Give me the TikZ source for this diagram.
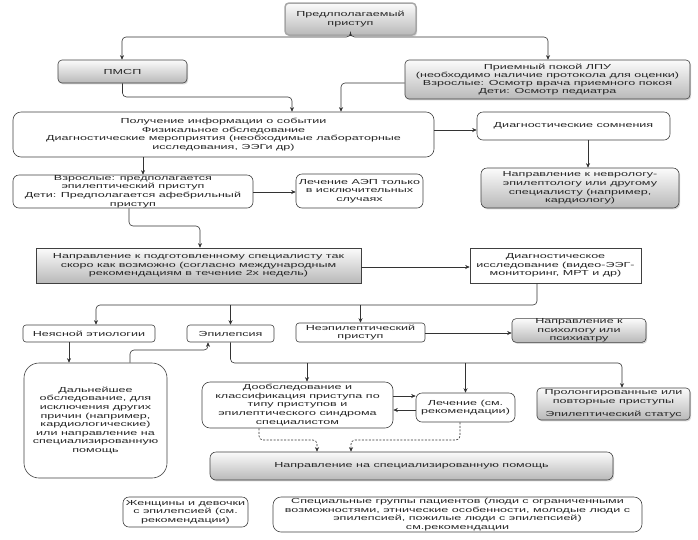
\documentclass[tikz,border=0pt]{standalone}
\usepackage{fontspec}
\setmainfont[FakeStretch=1.72]{Liberation Sans}
\usetikzlibrary{arrows.meta,shadows,calc}
\begin{document}
\begin{tikzpicture}[x=1pt,y=-1pt]
\tikzset{
 box/.style={draw=black!75, line width=0.6pt, align=center, inner sep=0pt, text=black!85, font=\fontsize{7.3}{8.6}\selectfont},
 wbox/.style={box, fill=white, rounded corners=6pt},
 sqbox/.style={box, fill=white},
 gbox/.style={box, rounded corners=4pt, top color=gray!3, bottom color=gray!55, drop shadow={opacity=0.3, shadow xshift=1.2pt, shadow yshift=-1.4pt}},
 gsq/.style={gbox, rounded corners=0pt},
 topbox/.style={gbox, draw=gray!70, line width=1.5pt},
 conn/.style={draw=black!80, line width=0.6pt, -{Stealth[length=4.5pt,width=4pt]}, rounded corners=4pt},
 dconn/.style={conn, dash pattern=on 2pt off 1.5pt},
}
\newcommand\bx[7]{\node[#6, minimum width={(#4-#2)*1pt}, minimum height={(#5-#3)*1pt}] (#1) at ({(#2+#4)/2},{(#3+#5)/2}) {#7};}
\useasboundingbox (0,0) rectangle (698,539);
\bx{top}{285}{3}{416}{35}{topbox}{Предлполагаемый\\приступ}
\bx{pmsp}{58}{60}{187}{83}{gbox}{ПМСП}
\bx{priem}{405}{60}{690}{99}{gbox,font=\fontsize{7.3}{8.3}\selectfont}{Приемный покой ЛПУ\\(необходимо наличие протокола для оценки)\\Взрослые: Осмотр врача приемного покоя\\Дети: Осмотр педиатра}
\bx{info}{13}{112}{434}{157}{wbox,rounded corners=8pt}{Получение информации о событии\\Физикальное обследование\\Диагностические мероприятия (необходимые лабораторные\\исследования, ЭЭГи др)}
\bx{doubt}{477}{112}{670}{140}{wbox}{Диагностические сомнения}
\bx{neuro}{481}{168}{679}{208}{gbox,rounded corners=6pt}{Направление к неврологу-\\эпилептологу или другому\\специалисту (например,\\кардиологу)}
\bx{adult}{13}{175}{253}{208}{wbox}{Взрослые: предполагается\\эпилептический приступ\\Дети: Предполагается афебрильный\\приступ}
\bx{aed}{296}{174}{423}{208}{wbox}{Лечение АЭП только\\в исключительных\\случаях}
\bx{spec}{36}{248}{361}{283}{gsq}{Направление к подготовленному специалисту так\\скоро как возможно (согласно международным\\рекомендациям в течение 2х недель)}
\bx{diag}{470}{248}{641}{283}{sqbox}{Диагностическое\\исследование (видео-ЭЭГ-\\мониторинг, МРТ и др)}
\bx{unclear}{23}{325}{155}{342}{wbox,rounded corners=3pt}{Неясной этиологии}
\bx{epi}{187}{325}{274}{342}{wbox,rounded corners=3pt}{Эпилепсия}
\bx{nonepi}{296}{323}{425}{342}{wbox,rounded corners=3pt}{Неэпилептический\\приступ}
\bx{psych}{512}{319}{646}{342}{gbox}{Направление к\\психологу или\\психиатру}
\bx{further}{24}{363}{167}{478}{wbox,rounded corners=15pt}{Дальнейшее\\обследование, для\\исключения других\\причин (например,\\кардиологические)\\или направление на\\специализированную\\помощь}
\bx{reclass}{202}{382}{393}{428}{wbox,rounded corners=8pt}{Дообследование и\\классификация приступа по\\типу приступов и\\эпилептического синдрома\\специалистом}
\bx{treat}{416}{393}{515}{422}{wbox}{Лечение (см.\\рекомендации)}
\bx{prolong}{537}{388}{690}{420}{gbox}{Пролонгированные или\\повторные приступы\\[5pt]Эпилептический статус}
\bx{help}{210}{452}{613}{480}{gbox,rounded corners=6pt}{Направление на специализированную помощь}
\bx{women}{123}{497}{248}{527}{wbox}{Женщины и девочки\\с эпилепсией (см.\\рекомендации)}
\bx{groups}{273}{497}{642}{532}{wbox,rounded corners=8pt}{Специальные группы пациентов (люди с ограниченными\\возможностями, этнические особенности, молодые люди с\\эпилепсией, пожилые люди с эпилепсией)\\см.рекомендации}
% waypoints
\coordinate (t1) at (122,37);
\coordinate (t2) at (548,37);
\coordinate (c1) at (292,97);
\coordinate (c2) at (341,83);
\coordinate (c3) at (143,0);
\coordinate (c4) at (129,226);
\coordinate (c10) at (200,226);
\coordinate (c8) at (0,130);
\coordinate (c9) at (588,0);
\coordinate (c11) at (0,192);
\coordinate (c12) at (0,267);
\coordinate (b1) at (537,305);
\coordinate (u1) at (96,305);
\coordinate (c13) at (0,333);
\coordinate (c5) at (69,0);
\coordinate (f1) at (130,350);
\coordinate (e1) at (208,350);
\coordinate (p1) at (622,363);
\coordinate (q1) at (307,363);
\coordinate (r1) at (0,396);
\coordinate (r2) at (0,410);
\coordinate (d1) at (259,440);
\coordinate (d2) at (317,440);
\coordinate (d3) at (460,440);
\coordinate (d4) at (351,440);
% connectors
\draw[conn] (top.south) -- (top.south |- t1) -- (t1) -- (t1 |- pmsp.north);
\draw[conn] (top.south) -- (top.south |- t2) -- (t2) -- (t2 |- priem.north);
\draw[conn] (pmsp.south) -- (pmsp.south |- c1) -- (c1) -- (c1 |- info.north);
\draw[conn] (c2 -| priem.west) -- (c2) -- (c2 |- info.north);
\draw[conn] (info.east |- c8) -- (doubt.west |- c8);
\draw[conn] (c9 |- doubt.south) -- (c9 |- neuro.north);
\draw[conn] (c3 |- info.south) -- (c3 |- adult.north);
\draw[conn] (adult.east |- c11) -- (aed.west |- c11);
\draw[conn] (c4 |- adult.south) -- (c4) -- (c10) -- (c10 |- spec.north);
\draw[conn] (spec.east |- c12) -- (diag.west |- c12);
\draw[conn] (b1 |- diag.south) -- (b1) -- (u1) -- (u1 |- unclear.north);
\draw[conn] (epi.north |- b1) -- (epi.north);
\draw[conn] (nonepi.north |- b1) -- (nonepi.north);
\draw[conn] (nonepi.east |- c13) -- (psych.west |- c13);
\draw[conn] (c5 |- unclear.south) -- (c5 |- further.north);
\draw[conn] (f1 |- further.north) -- (f1) -- (e1) -- (e1 |- epi.south);
\draw[conn] (epi.south) -- (epi.south |- p1) -- (p1) -- (p1 |- prolong.north);
\draw[conn] (q1) -- (q1 |- reclass.north);
\draw[conn] (treat.north |- p1) -- (treat.north);
\draw[conn] (reclass.east |- r1) -- (treat.west |- r1);
\draw[conn] (treat.west |- r2) -- (reclass.east |- r2);
\draw[dconn] (d1 |- reclass.south) -- (d1) -- (d2) -- (d2 |- help.north);
\draw[dconn] (d3 |- treat.south) -- (d3) -- (d4) -- (d4 |- help.north);
\end{tikzpicture}
\end{document}
